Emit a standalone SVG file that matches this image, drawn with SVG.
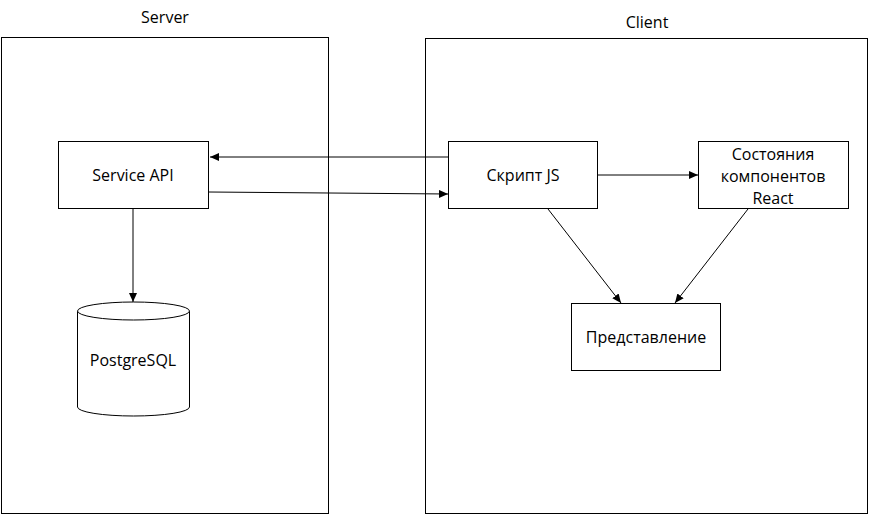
<svg xmlns="http://www.w3.org/2000/svg" width="870" height="516" viewBox="0 0 870 516">
<style>
.box{fill:#fff;stroke:#000;stroke-width:1}
.t{font-family:"Open Sans","Liberation Sans",sans-serif;font-size:16px;fill:#000;text-anchor:middle}
.c{stroke:#000;stroke-width:1;fill:none;marker-end:url(#ah)}
</style>
<defs>
<marker id="ah" markerWidth="10" markerHeight="8" refX="9" refY="4" orient="auto" markerUnits="userSpaceOnUse">
<path d="M0,0 L9,4 L0,8 Z" fill="#000"/>
</marker>
</defs>
<rect width="870" height="516" fill="#fff"/>
<g id="server">
<rect class="box" x="1.5" y="37.5" width="327" height="476"/>
<text class="t" x="165" y="23">Server</text>
</g>
<g id="client">
<rect class="box" x="425.5" y="38.5" width="442" height="475"/>
<text class="t" x="647" y="28">Client</text>
</g>
<g id="service-api">
<rect class="box" x="58.5" y="141.5" width="150" height="67"/>
<text class="t" x="133" y="181">Service API</text>
</g>
<g id="postgres">
<path class="box" d="M77.5,311 L77.5,407 A56,9 0 0 0 189.5,407 L189.5,311"/>
<ellipse class="box" cx="133.5" cy="311" rx="56" ry="9"/>
<text class="t" x="133" y="366">PostgreSQL</text>
</g>
<g id="script-js">
<rect class="box" x="448.5" y="141.5" width="149" height="67"/>
<text class="t" x="523" y="181">Скрипт JS</text>
</g>
<g id="states">
<rect class="box" x="698.5" y="141.5" width="150" height="67"/>
<text class="t" x="773" y="160">Состояния</text>
<text class="t" x="773" y="182">компонентов</text>
<text class="t" x="773" y="204">React</text>
</g>
<g id="view">
<rect class="box" x="571.5" y="303.5" width="149" height="67"/>
<text class="t" x="646" y="343">Представление</text>
</g>
<g id="connectors">
<line class="c" x1="448" y1="157" x2="210" y2="157"/>
<line class="c" x1="209" y1="192" x2="448" y2="194"/>
<line class="c" x1="598" y1="175" x2="698" y2="175"/>
<line class="c" x1="133" y1="209" x2="133" y2="302"/>
<line class="c" x1="548" y1="209" x2="621" y2="303"/>
<line class="c" x1="748" y1="209" x2="675" y2="303"/>
</g>
</svg>
